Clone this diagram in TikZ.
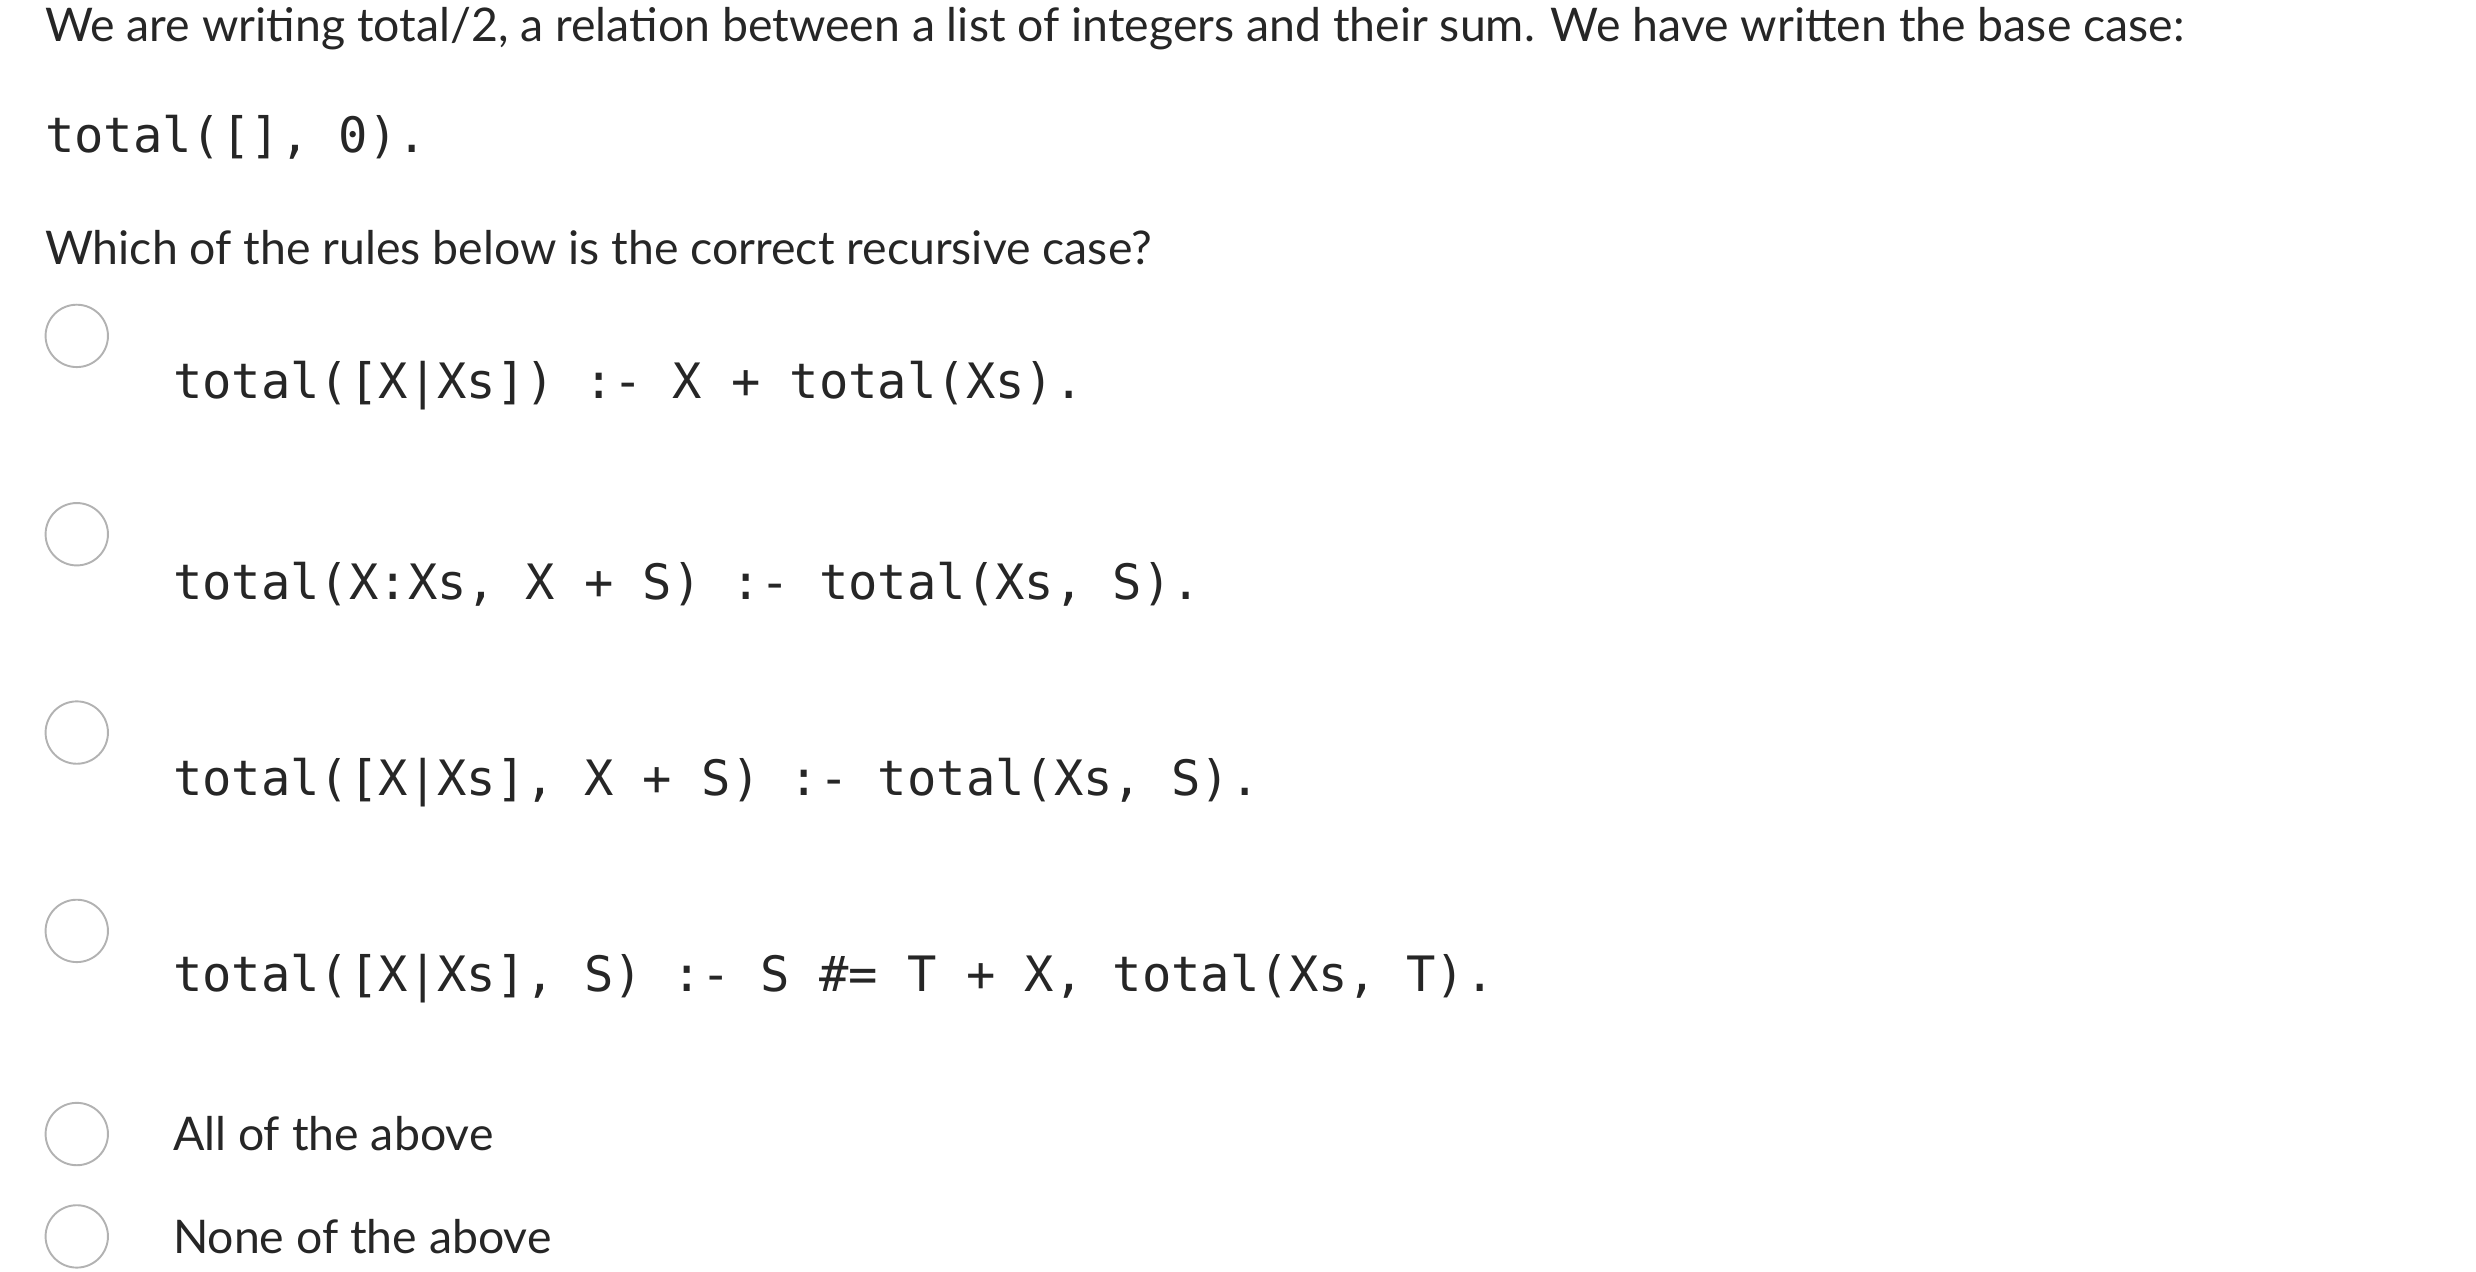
\documentclass[tikz,border=0pt]{standalone}
\usepackage{fontspec}
\setmainfont{Lato}
\setmonofont{DejaVu Sans Mono}
\begin{document}
\begin{tikzpicture}[x=1pt,y=-1pt,
  txt/.style={anchor=west,inner sep=0pt,font=\fontsize{29}{34}\selectfont,text=black!85},
  code/.style={anchor=west,inner sep=0pt,font=\fontsize{30.5}{36}\ttfamily,text=black!85},
  radio/.style={circle,draw=black!30,line width=1.2pt,minimum size=39pt,inner sep=0pt}]
\useasboundingbox (0,0) rectangle (1548,795);
\node[txt] (q1) at (28,18) {We are writing total/2, a relation between a list of integers and their sum. We have written the base case:};
\node[code] (base) at (28,86) {total([], 0).};
\node[txt] (q2) at (28,155) {Which of the rules below is the correct recursive case?};
\node[radio] (r1) at (48,210) {};
\node[code] (o1) at (108,241) {total([X|Xs]) :- X + total(Xs).};
\node[radio] (r2) at (48,334) {};
\node[code] (o2) at (108,365) {total(X:Xs, X + S) :- total(Xs, S).};
\node[radio] (r3) at (48,458) {};
\node[code] (o3) at (108,489) {total([X|Xs], X + S) :- total(Xs, S).};
\node[radio] (r4) at (48,582) {};
\node[code] (o4) at (108,612) {total([X|Xs], S) :- S \#= T + X, total(Xs, T).};
\node[radio] (r5) at (48,709) {};
\node[txt] (o5) at (108,709) {All of the above};
\node[radio] (r6) at (48,773) {};
\node[txt] (o6) at (108,773) {None of the above};
\end{tikzpicture}
\end{document}
